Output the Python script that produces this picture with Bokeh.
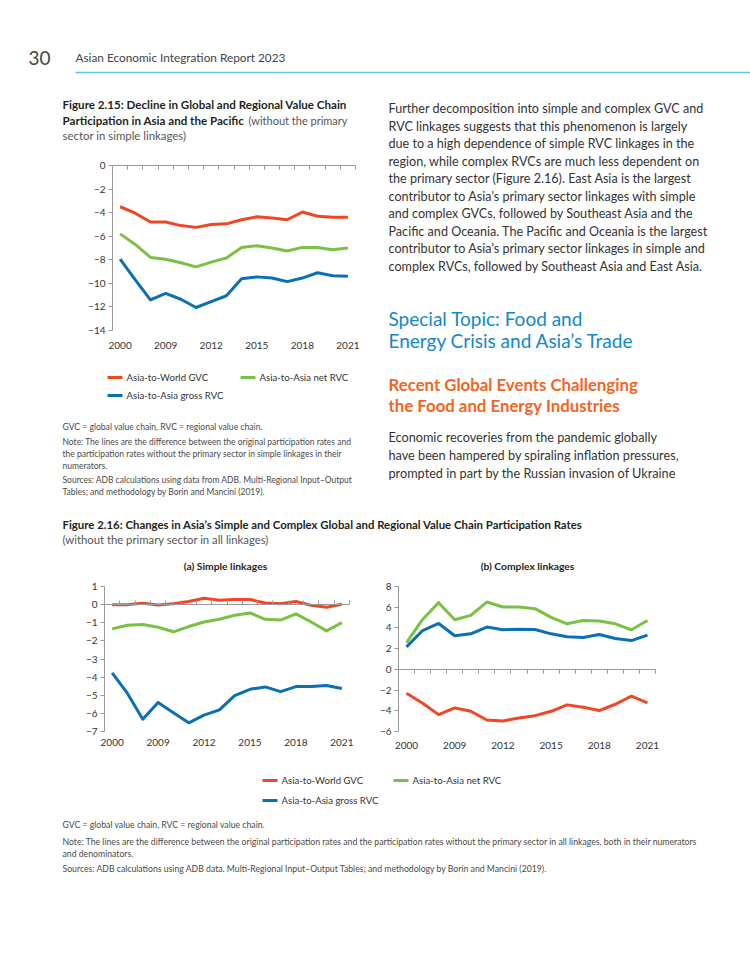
from bokeh.plotting import figure
from bokeh.models import Range1d, Label, FixedTicker, LinearAxis, CustomJSTickFormatter, ColumnDataSource
from bokeh.layouts import column, row
from bokeh.embed import file_html
from bokeh.resources import INLINE

# ---------------- data ----------------
years = ["2000", "2007", "2008", "2009", "2010", "2011", "2012", "2013",
         "2014", "2015", "2016", "2017", "2018", "2019", "2020", "2021"]
x_label_years = ["2000", "2009", "2012", "2015", "2018", "2021"]
series_names = ["Asia-to-World GVC", "Asia-to-Asia net RVC", "Asia-to-Asia gross RVC"]

fig215_gvc = [-3.5, -4.05, -4.8, -4.8, -5.1, -5.25, -5.0, -4.95, -4.6, -4.35, -4.45, -4.6, -3.95, -4.3, -4.4, -4.4]
fig215_net = [-5.8, -6.7, -7.8, -7.95, -8.25, -8.6, -8.2, -7.85, -6.95, -6.8, -7.0, -7.25, -6.95, -6.95, -7.15, -7.0]
fig215_gross = [-7.95, -9.7, -11.4, -10.85, -11.35, -12.05, -11.55, -11.05, -9.6, -9.45, -9.55, -9.85, -9.55, -9.1, -9.35, -9.4]
fig215_yticks = [0, -2, -4, -6, -8, -10, -12, -14]

simple_gvc = [0.0, 0.0, 0.07, -0.02, 0.05, 0.17, 0.35, 0.24, 0.28, 0.28, 0.09, 0.05, 0.17, -0.04, -0.15, 0.02]
simple_net = [-1.34, -1.14, -1.1, -1.25, -1.5, -1.21, -0.96, -0.81, -0.59, -0.46, -0.81, -0.85, -0.51, -0.96, -1.45, -0.99]
simple_gross = [-3.77, -4.9, -6.32, -5.4, -5.96, -6.52, -6.1, -5.81, -5.02, -4.67, -4.54, -4.8, -4.52, -4.52, -4.46, -4.63]
simple_yticks = [1, 0, -1, -2, -3, -4, -5, -6, -7]

complex_gvc = [-2.3, -3.27, -4.37, -3.72, -4.05, -4.89, -4.98, -4.69, -4.47, -4.05, -3.43, -3.66, -3.98, -3.37, -2.59, -3.24]
complex_net = [2.59, 4.82, 6.44, 4.79, 5.21, 6.5, 6.02, 6.02, 5.86, 5.02, 4.4, 4.72, 4.66, 4.4, 3.82, 4.72]
complex_gross = [2.17, 3.75, 4.43, 3.24, 3.43, 4.08, 3.82, 3.88, 3.85, 3.43, 3.14, 3.07, 3.37, 2.98, 2.78, 3.3]
complex_yticks = [8, 6, 4, 2, 0, -2, -4, -6]

# ---------------- styles ----------------
RED, GREEN, BLUE = "#EF4623", "#7AC143", "#0A6FB5"
COLORS = [RED, GREEN, BLUE]
AXIS = "#9a9a9a"
FONT = "Lato"
TXT = "#333333"
NOTE = "#4a4a4a"
TITLE = "#231F20"


def canvas(x0, y0, x1, y1):
    p = figure(width=x1 - x0, height=y1 - y0, x_range=Range1d(x0, x1), y_range=Range1d(y1, y0),
               output_backend="svg", toolbar_location=None, x_axis_type=None, y_axis_type=None,
               min_border=0, outline_line_color=None)
    p.grid.visible = False
    return p


def txt(p, x, y, s, size, color=TXT, style="normal", align="left"):
    p.add_layout(Label(x=x, y=y, text=s, text_font=FONT, text_font_size=f"{size}px",
                       text_color=color, text_font_style=style, text_baseline="middle",
                       text_align=align))


minus_fmt = CustomJSTickFormatter(code="return tick < 0 ? '\u2212' + Math.abs(tick) : String(tick);")


def chart(x0, y0, x1, y1, frame, yticks, vals, tick_in, tick_out):
    # frame = plotting-area edges (left, top, right, bottom) in page pixels
    fl, ft, fr, fb = frame
    n = len(years)
    sx = (fr - fl) / n
    ymin, ymax = min(yticks), max(yticks)
    sy = (fb - ft) / (ymax - ymin)
    xr = Range1d(-0.5 - (fl - x0) / sx, n - 0.5 + (x1 - fr) / sx)
    yr = Range1d(ymin - (y1 - fb) / sy, ymax + (ft - y0) / sy)
    p = figure(width=x1 - x0, height=y1 - y0, x_range=xr, y_range=yr,
               x_axis_type=None, y_axis_type=None, min_border=0,
               output_backend="svg", toolbar_location=None, outline_line_color=None)
    p.grid.visible = False

    # zero line: boundary ticks (minor) and year labels well below it
    zero_px = ft + ymax * sy
    idx = [years.index(y) for y in x_label_years]
    zero = LinearAxis(fixed_location=0, bounds=(-0.5, n - 0.5),
                      ticker=FixedTicker(ticks=idx, minor_ticks=[i - 0.5 for i in range(n + 1)]),
                      major_label_overrides={i: years[i] for i in idx},
                      axis_line_color=AXIS, major_tick_line_color=None,
                      major_tick_in=0, major_tick_out=0,
                      minor_tick_line_color=AXIS, minor_tick_in=tick_in, minor_tick_out=tick_out,
                      major_label_standoff=int(round(fb - zero_px + 7)),
                      major_label_text_font=FONT, major_label_text_font_size="10px",
                      major_label_text_color=TXT)
    p.add_layout(zero, "below")

    ya = LinearAxis(fixed_location=-0.5, bounds=(ymin, ymax), ticker=FixedTicker(ticks=yticks),
                    formatter=minus_fmt, axis_line_color=AXIS, major_tick_line_color=AXIS,
                    major_tick_out=4, major_tick_in=0, minor_tick_line_color=None,
                    major_label_standoff=3, major_label_text_font=FONT,
                    major_label_text_font_size="10px", major_label_text_color=TXT)
    p.add_layout(ya, "left")

    src = ColumnDataSource(dict(x=list(range(n)), a=vals[0], b=vals[1], c=vals[2]))
    for col, c in zip(["a", "b", "c"], COLORS):
        p.line("x", col, source=src, line_color=c, line_width=3, line_join="round")
    return p


def legend(p, items):
    for (sx, sy, name_i) in items:
        p.segment(x0=[sx], y0=[sy], x1=[sx + 15], y1=[sy], line_color=COLORS[name_i], line_width=3)
        txt(p, sx + 19, sy, series_names[name_i], 9.6)


# ---------------- header ----------------
header = canvas(0, 0, 750, 85)
txt(header, 28, 57, "30", 19, "#444444")
txt(header, 75, 57, "Asian Economic Integration Report 2023", 11.8, "#444444")
header.segment(x0=[75], y0=[72], x1=[750], y1=[72], line_color="#5BC5EA", line_width=1.5)

# ---------------- figure 2.15 ----------------
t215 = canvas(0, 85, 380, 150)
txt(t215, 62, 104, "Figure 2.15: Decline in Global and Regional Value Chain", 11.6, TITLE, "bold")
txt(t215, 62, 120, "Participation in Asia and the Pacific", 11.6, TITLE, "bold")
txt(t215, 347, 120, "(without the primary", 11.0, "#555555", "normal", "right")
txt(t215, 62, 135, "sector in simple linkages)", 11.4, "#555555")

c215 = chart(0, 150, 380, 355, (112, 165, 355, 330), fig215_yticks,
             [fig215_gvc, fig215_net, fig215_gross], 0, 4)

n215 = canvas(0, 355, 380, 505)
legend(n215, [(107, 377, 0), (240, 377, 1), (107, 395, 2)])
txt(n215, 62, 426, "GVC = global value chain, RVC = regional value chain.", 8.6, NOTE)
txt(n215, 62, 441, "Note: The lines are the difference between the original participation rates and", 8.5, NOTE)
txt(n215, 62, 453, "the participation rates without the primary sector in simple linkages in their", 8.5, NOTE)
txt(n215, 62, 465, "numerators.", 8.5, NOTE)
txt(n215, 62, 479, "Sources: ADB calculations using data from ADB. Multi-Regional Input\u2013Output", 8.5, NOTE)
txt(n215, 62, 491, "Tables; and methodology by Borin and Mancini (2019).", 8.5, NOTE)

# ---------------- right text column ----------------
right = canvas(380, 85, 750, 505)
body = [
    "Further decomposition into simple and complex GVC and",
    "RVC linkages suggests that this phenomenon is largely",
    "due to a high dependence of simple RVC linkages in the",
    "region, while complex RVCs are much less dependent on",
    "the primary sector (Figure 2.16). East Asia is the largest",
    "contributor to Asia\u2019s primary sector linkages with simple",
    "and complex GVCs,  followed by Southeast Asia and the",
    "Pacific and Oceania. The Pacific and Oceania is the largest",
    "contributor to Asia\u2019s primary sector linkages in simple and",
    "complex RVCs, followed by Southeast Asia and East Asia.",
]
for i, s in enumerate(body):
    txt(right, 388, 108 + 17.5 * i, s, 12.6)
txt(right, 388, 318, "Special Topic: Food and", 19, "#1387C9")
txt(right, 388, 340, "Energy Crisis and Asia\u2019s Trade", 19, "#1387C9")
txt(right, 388, 384, "Recent Global Events Challenging", 16.8, "#F26522", "bold")
txt(right, 388, 405, "the Food and Energy Industries", 16.8, "#F26522", "bold")
for i, s in enumerate(["Economic recoveries from the pandemic globally",
                       "have been hampered by spiraling inflation pressures,",
                       "prompted in part by the Russian invasion of Ukraine"]):
    txt(right, 388, 436 + 18 * i, s, 12.7)

# ---------------- figure 2.16 ----------------
t216 = canvas(0, 505, 750, 580)
txt(t216, 62, 524, "Figure 2.16: Changes in Asia\u2019s Simple and Complex Global and Regional Value Chain Participation Rates", 11.4, TITLE, "bold")
txt(t216, 62, 539, "(without the primary sector in all linkages)", 11.3, "#555555")
txt(t216, 225, 565, "(a) Simple linkages", 10.3, TITLE, "bold", "center")
txt(t216, 527, 565, "(b) Complex linkages", 10.3, TITLE, "bold", "center")

ca = chart(0, 580, 370, 755, (104, 586, 349, 731), simple_yticks,
           [simple_gvc, simple_net, simple_gross], 4, 0)
cb = chart(370, 580, 750, 755, (398, 586, 655, 731), complex_yticks,
           [complex_gvc, complex_net, complex_gross], 0, 4)

bottom = canvas(0, 755, 750, 966)
legend(bottom, [(262, 780, 0), (393, 780, 1), (262, 800, 2)])
txt(bottom, 62, 824, "GVC = global value chain, RVC = regional value chain.", 8.7, NOTE)
txt(bottom, 62, 841, "Note: The lines are the difference between the original participation rates and the participation rates without the primary sector in all linkages, both in their numerators", 8.7, NOTE)
txt(bottom, 62, 853, "and denominators.", 8.7, NOTE)
txt(bottom, 62, 868, "Sources: ADB calculations using ADB data. Multi-Regional Input\u2013Output Tables; and methodology by Borin and Mancini (2019).", 8.7, NOTE)

page = column(
    header,
    row(column(t215, c215, n215), right),
    t216,
    row(ca, cb),
    bottom,
)

open("out.html", "w").write(file_html(page, INLINE))
